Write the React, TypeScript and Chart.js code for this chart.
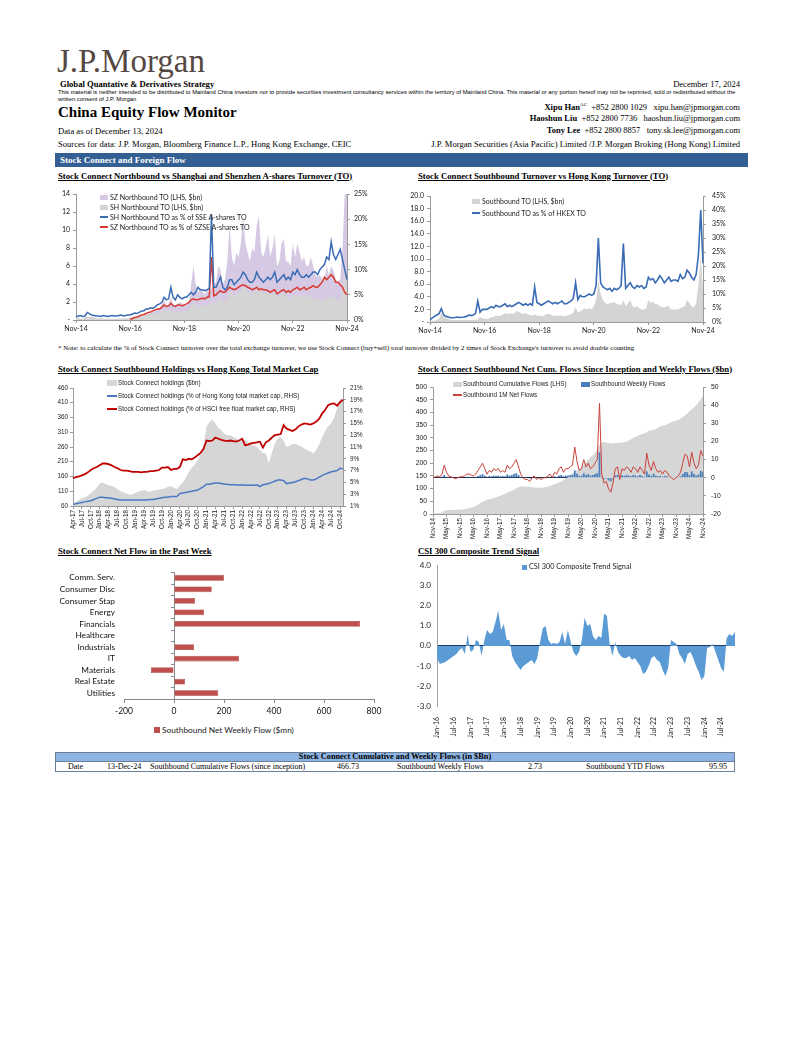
import React, { useEffect, useRef } from 'react';
import { Chart, registerables } from 'chart.js';

Chart.register(...registerables);

// ---------- category helpers ----------
const MONTHS = ['Jan', 'Feb', 'Mar', 'Apr', 'May', 'Jun', 'Jul', 'Aug', 'Sep', 'Oct', 'Nov', 'Dec'];
function monthSeq(year: number, month: number, count: number): string[] {
  const out: string[] = [];
  for (let i = 0; i < count; i++) {
    const m = (month + i) % 12;
    const y = year + Math.floor((month + i) / 12);
    out.push(MONTHS[m] + '-' + String(y % 100).padStart(2, '0'));
  }
  return out;
}

// ---------- Chart 1: Northbound vs A-share turnover (monthly, Nov-14 .. Nov-24) ----------
const c1Months = monthSeq(2014, 10, 121);
const c1Ticks = ['Nov-14', 'Nov-16', 'Nov-18', 'Nov-20', 'Nov-22', 'Nov-24'];
const c1SZTurnover = [
  0, 0, 0, 0, 0, 0, 0, 0, 0, 0, 0, 0,
  0, 0, 0, 0, 0, 0, 0, 0, 0, 0, 0, 0,
  0, 0.2, 0.3, 0.3, 0.4, 0.4, 0.5, 0.6, 0.7, 0.8, 0.9, 1.0,
  1.2, 1.3, 1.8, 2.2, 1.6, 1.8, 2.5, 1.8, 1.6, 1.8, 2.0, 1.8,
  1.8, 1.6, 2.0, 4.0, 6.0, 4.0, 3.0, 3.6, 3.2, 2.8, 3.4, 3.0,
  3.5, 4.0, 4.2, 6.0, 5.5, 4.0, 4.5, 6.5, 10.5, 7.0, 6.0, 7.5,
  7.0, 8.5, 11.5, 8.5, 7.5, 6.5, 8.0, 7.5, 10.5, 11.5, 7.5, 7.0,
  8.0, 9.5, 7.0, 8.0, 9.5, 6.0, 6.5, 8.5, 9.0, 6.5, 6.5, 6.0,
  8.5, 7.0, 8.5, 7.5, 6.5, 7.0, 6.0, 6.0, 7.0, 6.0, 5.0, 4.8,
  5.0, 4.5, 4.5, 6.0, 5.0, 6.0, 5.5, 4.5, 4.2, 4.5, 8.0, 14.0,
  14.0,
];
const c1SHTurnover = [
  0.3, 0.2, 0.15, 0.15, 0.3, 0.4, 0.3, 0.4, 0.3, 0.2, 0.2, 0.2,
  0.2, 0.15, 0.15, 0.15, 0.15, 0.15, 0.15, 0.15, 0.15, 0.2, 0.2, 0.2,
  0.3, 0.3, 0.3, 0.3, 0.4, 0.4, 0.4, 0.5, 0.6, 0.6, 0.7, 0.7,
  0.8, 0.8, 1.0, 1.2, 1.0, 1.0, 1.1, 1.0, 0.9, 1.0, 1.0, 0.9,
  1.0, 1.0, 1.1, 1.6, 2.0, 1.8, 1.5, 1.6, 1.6, 1.5, 1.6, 1.6,
  1.8, 1.9, 2.0, 2.3, 2.5, 2.0, 2.0, 2.3, 3.2, 3.0, 2.8, 2.8,
  3.0, 3.2, 3.6, 3.6, 3.2, 2.9, 3.0, 3.1, 3.4, 3.5, 3.2, 2.9,
  3.0, 3.0, 2.9, 2.8, 3.0, 2.6, 2.6, 3.0, 3.0, 2.7, 2.5, 2.4,
  2.8, 2.7, 2.6, 2.8, 2.7, 2.8, 2.6, 2.5, 2.6, 2.5, 2.4, 2.3,
  2.3, 2.2, 2.2, 2.6, 2.5, 2.5, 2.6, 2.3, 2.2, 2.2, 3.5, 5.0,
  3.5,
];
const c1SHPct = [
  0.6, 0.8, 0.9, 0.7, 0.8, 1.5, 1.2, 1.0, 0.9, 0.8, 0.8, 0.7,
  0.9, 0.8, 0.7, 0.8, 0.9, 0.8, 0.8, 0.9, 1.0, 0.8, 0.9, 1.0,
  1.0, 1.2, 1.4, 1.3, 1.5, 1.8, 1.8, 2.2, 2.2, 2.4, 2.3, 2.6,
  3.0, 3.2, 3.5, 4.5, 4.0, 4.2, 6.5, 4.5, 4.0, 5.0, 4.5, 4.2,
  4.5, 4.5, 5.0, 5.5, 5.0, 5.5, 6.5, 6.0, 6.0, 5.8, 6.0, 6.2,
  21.0, 6.5, 6.5, 7.5, 8.5, 6.5, 6.0, 6.5, 8.0, 8.0, 7.0, 7.5,
  8.0, 8.5, 9.5, 9.0, 8.0, 7.5, 7.5, 8.0, 9.5, 8.5, 8.0, 7.5,
  8.0, 8.5, 8.0, 8.5, 9.5, 7.5, 8.0, 8.5, 9.0, 8.0, 8.5, 8.0,
  9.5, 9.0, 10.0, 9.0, 8.5, 8.5, 9.0, 8.5, 9.0, 9.5, 9.5, 9.0,
  10.0, 10.5, 11.0, 12.5, 12.0, 15.5, 13.0, 12.0, 13.0, 14.0, 12.0, 10.0,
  8.0,
];
const c1SZPct = [
  null, null, null, null, null, null, null, null, null, null, null, null,
  null, null, null, null, null, null, null, null, null, null, null, null,
  0.1, 0.3, 0.5, 0.6, 0.8, 1.0, 1.1, 1.3, 1.5, 1.6, 1.8, 2.0,
  2.2, 2.2, 2.5, 3.0, 2.7, 2.8, 3.3, 2.8, 2.7, 3.0, 3.0, 2.8,
  3.0, 3.2, 3.5, 4.0, 4.2, 4.0, 4.0, 4.2, 4.3, 4.2, 4.5, 4.6,
  12.5, 4.8, 5.0, 5.5, 5.8, 5.5, 5.5, 6.0, 6.5, 6.2, 6.0, 6.2,
  6.5, 6.8, 7.0, 6.8, 6.5, 6.3, 6.0, 6.2, 6.5, 6.0, 6.2, 6.0,
  6.0, 5.8, 5.5, 5.8, 6.0, 5.2, 5.5, 5.8, 6.0, 5.5, 5.8, 5.5,
  6.0, 6.2, 6.5, 6.0, 6.2, 6.5, 6.0, 6.3, 6.5, 6.8, 6.5, 6.5,
  7.0, 7.5, 8.5, 8.0, 8.5, 9.0, 8.5, 7.5, 7.5, 7.0, 6.5, 5.5,
  5.0,
];

// ---------- Chart 2: Southbound turnover (monthly, Nov-14 .. Nov-24) ----------
const c2Months = monthSeq(2014, 10, 121);
const c2Ticks = ['Nov-14', 'Nov-16', 'Nov-18', 'Nov-20', 'Nov-22', 'Nov-24'];
const c2SBTurnover = [
  0.1, 0.2, 0.2, 0.3, 0.5, 1.5, 0.8, 0.6, 0.5, 0.3, 0.3, 0.3,
  0.3, 0.3, 0.3, 0.3, 0.3, 0.3, 0.3, 0.3, 0.4, 0.4, 0.8, 0.6,
  0.5, 0.5, 0.6, 0.8, 0.8, 1.0, 0.9, 1.0, 1.2, 1.4, 1.3, 1.3,
  1.4, 1.3, 1.8, 1.6, 1.4, 1.3, 1.4, 1.2, 1.1, 1.0, 1.2, 1.0,
  1.0, 0.9, 1.0, 1.2, 1.3, 1.2, 1.0, 1.0, 1.0, 1.0, 1.0, 0.9,
  1.0, 1.1, 1.2, 1.5, 2.4, 1.5, 1.7, 1.9, 2.2, 2.0, 2.2, 2.0,
  2.5, 3.5, 6.5, 4.5, 3.5, 3.0, 2.8, 3.0, 3.0, 3.2, 2.8, 2.8,
  2.6, 3.5, 2.5, 3.0, 3.5, 2.5, 2.3, 2.5, 2.2, 2.0, 2.0, 2.2,
  3.5, 3.0, 3.2, 2.8, 2.8, 2.5, 2.4, 2.3, 2.5, 2.5, 2.0, 2.0,
  2.0, 2.0, 2.2, 2.4, 2.5, 3.5, 3.0, 2.5, 2.3, 3.0, 6.0, 10.5,
  5.0,
];
const c2SBPct = [
  0.7, 1.5, 2.0, 2.5, 3.0, 4.8, 2.5, 2.0, 1.8, 1.5, 1.5, 1.6,
  1.8, 1.6, 1.7, 1.8, 2.0, 2.5, 2.3, 2.5, 3.0, 7.5, 3.5, 4.5,
  4.5, 4.5, 5.0, 5.5, 5.0, 6.0, 5.5, 5.5, 6.0, 6.5, 5.5, 6.0,
  5.5, 6.0, 6.5, 7.0, 6.5, 6.0, 6.5, 6.0, 6.5, 6.0, 12.5, 7.0,
  6.5, 6.0, 6.5, 7.0, 7.5, 7.0, 6.5, 7.0, 6.5, 7.0, 7.5, 6.5,
  6.5, 7.0, 7.5, 8.5, 14.0, 8.0, 9.5, 9.0, 9.0, 9.5, 10.0, 9.5,
  10.0, 13.0, 30.0, 14.0, 12.5, 12.0, 11.5, 12.0, 11.0, 12.0, 11.5, 12.0,
  13.0, 28.0, 12.0, 13.0, 14.0, 12.5, 12.0, 13.0, 12.5, 13.0, 12.0, 12.5,
  16.0, 15.0, 15.5, 14.0, 15.0, 16.5, 15.5, 14.0, 15.0, 16.0, 14.5, 15.0,
  15.0, 14.5, 17.0, 15.5, 16.0, 18.5, 17.5, 16.0, 15.0, 17.0, 24.0, 40.0,
  21.0,
];

// ---------- Chart 3: Southbound holdings (monthly, Apr-17 .. Nov-24) ----------
const c3Months = monthSeq(2017, 3, 92);
const c3Ticks = [
  'Apr-17', 'Jul-17', 'Oct-17', 'Jan-18', 'Apr-18', 'Jul-18', 'Oct-18', 'Jan-19', 'Apr-19', 'Jul-19', 'Oct-19',
  'Jan-20', 'Apr-20', 'Jul-20', 'Oct-20', 'Jan-21', 'Apr-21', 'Jul-21', 'Oct-21', 'Jan-22', 'Apr-22', 'Jul-22',
  'Oct-22', 'Jan-23', 'Apr-23', 'Jul-23', 'Oct-23', 'Jan-24', 'Apr-24', 'Jul-24', 'Oct-24',
];
const c3Holdings = [
  69, 74, 80, 86, 90, 96, 103, 112, 122,
  136, 140, 135, 130, 128, 124, 117, 110, 106, 102, 98, 100,
  104, 108, 112, 114, 110, 108, 112, 114, 115, 118, 120, 124,
  128, 122, 118, 130, 140, 155, 175, 190, 200, 215, 235, 260,
  330, 345, 353, 340, 325, 317, 305, 300, 300, 295, 290, 283,
  280, 285, 277, 270, 265, 260, 250, 240, 238, 204, 240, 270,
  289, 294, 280, 260, 265, 270, 271, 265, 262, 255, 250, 245,
  238, 250, 270, 294, 315, 330, 340, 360, 390, 424, 420,
];
const c3PctHKTotal = [
  1.3, 1.4, 1.5, 1.6, 1.7, 1.8, 1.9, 2.1, 2.3,
  2.5, 2.5, 2.4, 2.4, 2.3, 2.2, 2.1, 2.0, 2.0, 2.0, 2.0, 2.0,
  2.0, 2.0, 2.0, 2.0, 2.0, 2.1, 2.1, 2.2, 2.3, 2.4, 2.5, 2.5,
  2.6, 2.6, 2.6, 3.1, 3.2, 3.3, 3.4, 3.5, 3.6, 3.7, 4.0, 4.3,
  4.7, 4.7, 4.8, 4.9, 4.9, 4.8, 4.7, 4.7, 4.6, 4.6, 4.6, 4.5,
  4.6, 4.5, 4.5, 4.5, 4.5, 4.6, 4.3, 4.6, 4.7, 4.8, 5.0, 5.2,
  5.4, 5.4, 5.3, 4.8, 4.9, 5.0, 5.1, 5.3, 5.5, 5.7, 5.6, 5.4,
  5.4, 5.6, 5.9, 6.2, 6.4, 6.6, 6.8, 6.9, 7.0, 7.4, 7.3,
];
const c3PctHSCI = [
  5.7, 5.9, 6.0, 6.2, 6.4, 6.7, 7.1, 7.4, 7.6,
  7.9, 8.2, 8.2, 8.1, 7.9, 7.6, 7.4, 7.1, 7.0, 7.0, 6.9, 6.8,
  6.8, 6.8, 6.7, 6.8, 6.8, 6.9, 6.9, 7.0, 7.1, 7.5, 7.5, 7.6,
  7.1, 7.3, 7.3, 7.6, 8.9, 8.8, 9.0, 8.9, 9.2, 9.6, 10.0, 10.7,
  12.1, 12.0, 12.1, 12.6, 12.4, 12.2, 12.1, 12.0, 12.1, 12.0, 11.9, 12.1,
  12.4, 11.3, 11.4, 11.6, 11.7, 11.8, 11.9, 10.9, 11.8, 12.1, 12.6, 13.0,
  13.1, 13.2, 14.7, 14.1, 13.9, 13.7, 14.0, 14.5, 14.8, 15.0, 14.9, 14.8,
  15.0, 15.3, 15.8, 16.7, 17.3, 18.1, 18.3, 18.4, 18.0, 18.6, 19.0,
];

// ---------- Chart 4: Southbound flows (monthly, Nov-14 .. Nov-24) ----------
const c4Months = monthSeq(2014, 10, 121);
const c4Ticks = [
  'Nov-14', 'May-15', 'Nov-15', 'May-16', 'Nov-16', 'May-17', 'Nov-17', 'May-18', 'Nov-18', 'May-19', 'Nov-19',
  'May-20', 'Nov-20', 'May-21', 'Nov-21', 'May-22', 'Nov-22', 'May-23', 'Nov-23', 'May-24', 'Nov-24',
];
const c4Cumulative = [
  1, 2, 3, 4, 5, 14, 15, 16, 16, 17, 17, 17,
  18, 18, 19, 21, 23, 26, 29, 32, 36, 42, 48, 52,
  56, 58, 60, 63, 66, 69, 72, 76, 80, 84, 88, 92,
  96, 100, 106, 108, 108, 108, 107, 106, 105, 104, 104, 103,
  103, 104, 105, 108, 110, 114, 117, 120, 124, 128, 134, 140,
  146, 152, 158, 164, 172, 178, 186, 195, 205, 215, 225, 230,
  240, 255, 270, 282, 285, 281, 280, 279, 278, 280, 280, 281,
  282, 283, 285, 290, 295, 300, 303, 307, 312, 315, 318, 322,
  328, 330, 332, 335, 340, 345, 348, 350, 354, 358, 362, 365,
  368, 370, 375, 382, 388, 396, 405, 413, 420, 428, 440, 452,
  466,
];
const c4Weekly = [
  0, 0, 0.3, 0, 0.5, 1.5, 0.5, 0.2, 0, 0, 0, 0,
  0, 0, 0.3, 0.5, 0.5, 0.4, 0.3, 0.5, 1, 1.5, 2, 1.2,
  0.5, 1, 0.8, 1.2, 1, 1.2, 0.8, 1, 0.8, 1.8, 1.2, 1.5,
  2, 2.5, 1.5, 0.5, 0, -0.3, -0.3, -0.5, 0, 0.3, -0.3, 0,
  -0.3, 0, 0, 0.3, 0.5, 0, 0.8, 0.5, 1.2, 1.5, 0.8, 1.2,
  1.2, 1.5, 1.8, 4, 2.2, 1, 1.2, 2.5, 1.5, 2, 1.2, 1.5,
  2, 2.5, 14, 0.5, -0.8, -0.5, -1.5, -2, -0.8, 1.2, 1.5, -0.3,
  1.2, 1, 1.5, 1.2, 0.8, 1.5, 1.2, 0.8, 1.5, 1, 0.5, 3.5,
  1.8, 1, 2.2, 1.2, 0.8, 1, 0.5, 1, 0.8, 0.3, 0, -0.3,
  0, 0.3, 0.8, 2, 3.2, 3, 1.5, 3.5, 2, 1.2, 1.8, 3.8,
  3,
];
const c4OneMonth = [
  0, 0.5, 1, 0.5, 2, 7, 3, 1, 0.5, 0, -0.5, 0,
  0.5, 0.5, 1, 2, 2, 1.5, 1, 2, 4, 6, 8, 5,
  2, 4, 3, 5, 4, 5, 3, 4, 3, 7, 5, 6,
  8, 10, 6, 2, 0, -1, -1, -2, 0, 1, -1, 0,
  -1, 0, 0, 1, 2, 0, 3, 2, 5, 6, 3, 5,
  5, 6, 7, 17, 9, 4, 5, 10, 6, 8, 5, 6,
  8, 10, 41, 2, -3, -2, -6, -8, -3, 5, 6, -1,
  5, 4, 6, 5, 3, 6, 5, 3, 6, 4, 2, 13.5,
  7, 4, 9, 5, 3, 4, 2, 4, 3, 1, 0, -1,
  0, 1, 3, 8, 13, 12, 6, 14, 8, 5, 7, 15,
  12,
];

// ---------- Chart 5: Net flow in past week by sector ($mn) ----------
const c5Sectors = ['Comm. Serv.', 'Consumer Disc', 'Consumer Stap', 'Energy', 'Financials', 'Healthcare', 'Industrials', 'IT', 'Materials', 'Real Estate', 'Utilities'];
const c5NetFlow = [200, 151, 84, 120, 744, 3, 80, 260, -92, 44, 177];

// ---------- Chart 6: CSI 300 composite trend signal (monthly, Jan-16 .. Dec-24) ----------
const c6Months = monthSeq(2016, 0, 108);
const c6Ticks = [
  'Jan-16', 'Jul-16', 'Jan-17', 'Jul-17', 'Jan-18', 'Jul-18', 'Jan-19', 'Jul-19', 'Jan-20',
  'Jul-20', 'Jan-21', 'Jul-21', 'Jan-22', 'Jul-22', 'Jan-23', 'Jul-23', 'Jan-24', 'Jul-24',
];
const c6Signal = [
  -0.6, -0.9, -0.85, -0.8, -0.7, -0.6, -0.5, -0.4, -0.2, -0.1, -0.4, 0.6,
  -0.3, -0.2, 0.3, 0.2, -0.5, 0.3, 0.8, 0.6, 0.7, 1.2, 1.75, 0.8,
  1.1, 0.3, 0.3, -0.5, -0.8, -1.0, -1.2, -1.0, -0.9, -0.8, -0.7, -0.9,
  -0.6, 0.2, 0.9, 1.0, 0.3, 0.1, 0.15, 0.1, 0.2, 0.7, 0.1, 0.8,
  0.2, -0.3, -0.5, -0.3, 0.3, 1.4, 1.0, 1.1, 0.5, 0.3, 0.5, 0.4,
  1.6, 1.5, 0.1, -0.5, 0.2, -0.3, -0.5, -0.6, -0.6, -0.5, -0.7, -0.6,
  -0.8, -1.0, -1.4, -1.3, -1.0, -0.6, -0.5, -0.7, -0.8, -1.2, -1.5, -1.1,
  0.3, 0.2, 0.1, -0.4, -0.6, -0.9, -0.4, -0.3, -0.6, -1.0, -1.3, -1.7,
  -1.5, -0.1, -0.05, 0.1, -0.3, -0.7, -1.1, -1.3, 0.4, 0.6, 0.5, 0.7,
];

// ---------- fonts / colours ----------
const SERIF = '"Liberation Serif", "Times New Roman", serif';
const SANS = '"Liberation Sans", Arial, sans-serif';
const CAL = 'Lato, "Open Sans", sans-serif';
const AXIS = '#9a9a9a';

function sparse(ticks: string[]) {
  return function (this: any, value: any) {
    const l = this.getLabelForValue(value);
    return ticks.includes(l) ? l : null;
  };
}
const tickColorSparse = (ctx: any) => (ctx.tick && ctx.tick.label ? AXIS : 'rgba(0,0,0,0)');
const fixW = (w: number) => (s: any) => { s.width = w; };
const fixH = (h: number) => (s: any) => { s.height = h; };

const base = (padding: any) => ({
  responsive: false,
  animation: false as const,
  events: [] as any[],
  layout: { padding },
  plugins: { legend: { display: false }, tooltip: { enabled: false } },
});

// ---------- chart configs ----------
function cfg1(): any {
  return {
    type: 'line',
    data: {
      labels: c1Months,
      datasets: [
        { label: 'SH Northbound TO as % of SSE A-shares TO', data: c1SHPct, yAxisID: 'y1', borderColor: '#3a6cb4', borderWidth: 1.5, pointRadius: 0, fill: false, order: 0 },
        { label: 'SZ Northbound TO as % of SZSE A-shares TO', data: c1SZPct, yAxisID: 'y1', borderColor: '#d83a30', borderWidth: 1.5, pointRadius: 0, fill: false, order: 1 },
        { label: 'SH Northbound TO (LHS, $bn)', data: c1SHTurnover, yAxisID: 'y', borderWidth: 0, backgroundColor: '#d4d4d4', pointRadius: 0, fill: 'origin', order: 2 },
        { label: 'SZ Northbound TO (LHS, $bn)', data: c1SZTurnover, yAxisID: 'y', borderWidth: 0, backgroundColor: '#d5c9e3', pointRadius: 0, fill: 'origin', order: 3 },
      ],
    },
    options: {
      ...base({ top: 9, left: 0, right: 0, bottom: 0 }),
      scales: {
        x: {
          afterFit: fixH(20),
          grid: { display: true, drawOnChartArea: false, tickLength: 3, tickColor: tickColorSparse },
          border: { color: AXIS },
          ticks: { autoSkip: false, maxRotation: 0, minRotation: 0, callback: sparse(c1Ticks), font: { family: CAL, size: 7 }, color: '#222', padding: 2 },
        },
        y: {
          position: 'left', min: 0, max: 14, afterFit: fixW(26),
          grid: { display: true, drawOnChartArea: false, tickLength: 3, color: AXIS },
          border: { color: AXIS },
          ticks: { stepSize: 2, callback: (v: number) => (v === 0 ? '-' : String(v)), font: { family: CAL, size: 7 }, color: '#222', padding: 3 },
        },
        y1: {
          position: 'right', min: 0, max: 25, afterFit: fixW(33),
          grid: { display: true, drawOnChartArea: false, tickLength: 3, color: AXIS },
          border: { color: AXIS },
          ticks: { stepSize: 5, callback: (v: number) => v + '%', font: { family: CAL, size: 7 }, color: '#222', padding: 4 },
        },
      },
    },
  };
}

function cfg2(): any {
  return {
    type: 'line',
    data: {
      labels: c2Months,
      datasets: [
        { label: 'Southbound TO as % of HKEX TO', data: c2SBPct, yAxisID: 'y1', borderColor: '#3a6cb4', borderWidth: 1.6, pointRadius: 0, fill: false, order: 0 },
        { label: 'Southbound TO (LHS, $bn)', data: c2SBTurnover, yAxisID: 'y', borderWidth: 0, backgroundColor: '#d4d4d4', pointRadius: 0, fill: 'origin', order: 1 },
      ],
    },
    options: {
      ...base({ top: 11, left: 0, right: 0, bottom: 0 }),
      scales: {
        x: {
          afterFit: fixH(18),
          grid: { display: true, drawOnChartArea: false, tickLength: 3, tickColor: tickColorSparse },
          border: { color: AXIS },
          ticks: { autoSkip: false, maxRotation: 0, minRotation: 0, callback: sparse(c2Ticks), font: { family: CAL, size: 7 }, color: '#222', padding: 2 },
        },
        y: {
          position: 'left', min: 0, max: 20, afterFit: fixW(30),
          grid: { display: true, drawOnChartArea: false, tickLength: 3, color: AXIS },
          border: { color: AXIS },
          ticks: { stepSize: 2, callback: (v: number) => (v === 0 ? '-' : v.toFixed(1)), font: { family: CAL, size: 7 }, color: '#222', padding: 3 },
        },
        y1: {
          position: 'right', min: 0, max: 45, afterFit: fixW(42),
          grid: { display: true, drawOnChartArea: false, tickLength: 3, color: AXIS },
          border: { color: AXIS },
          ticks: { stepSize: 5, callback: (v: number) => v + '%', font: { family: CAL, size: 7 }, color: '#222', padding: 6 },
        },
      },
    },
  };
}

function cfg3(): any {
  return {
    type: 'line',
    data: {
      labels: c3Months,
      datasets: [
        { label: 'Stock Connect holdings (% of HSCI free float market cap, RHS)', data: c3PctHSCI, yAxisID: 'y1', borderColor: '#c00000', borderWidth: 1.8, pointRadius: 0, fill: false, order: 0 },
        { label: 'Stock Connect holdings (% of Hong Kong total market cap, RHS)', data: c3PctHKTotal, yAxisID: 'y1', borderColor: '#4a78c2', borderWidth: 1.5, pointRadius: 0, fill: false, order: 1 },
        { label: 'Stock Connect holdings ($bn)', data: c3Holdings, yAxisID: 'y', borderWidth: 0, backgroundColor: '#d6d6d6', pointRadius: 0, fill: 'origin', order: 2 },
      ],
    },
    options: {
      ...base({ top: 10, left: 0, right: 0, bottom: 0 }),
      scales: {
        x: {
          afterFit: fixH(32),
          grid: { display: true, drawOnChartArea: false, tickLength: 3, tickColor: tickColorSparse },
          border: { color: AXIS },
          ticks: { autoSkip: false, maxRotation: 90, minRotation: 90, callback: sparse(c3Ticks), font: { family: SANS, size: 6.3 }, color: '#222', padding: 1 },
        },
        y: {
          position: 'left', min: 60, max: 460, afterFit: fixW(23),
          grid: { display: true, drawOnChartArea: false, tickLength: 3, color: AXIS },
          border: { color: AXIS },
          ticks: { stepSize: 50, font: { family: SANS, size: 6.3 }, color: '#222', padding: 2 },
        },
        y1: {
          position: 'right', min: 1, max: 21, afterFit: fixW(37),
          grid: { display: true, drawOnChartArea: false, tickLength: 3, color: AXIS },
          border: { color: AXIS },
          ticks: { stepSize: 2, callback: (v: number) => v + '%', font: { family: SANS, size: 6.3 }, color: '#222', padding: 4 },
        },
      },
    },
  };
}

function cfg4(): any {
  return {
    type: 'bar',
    data: {
      labels: c4Months,
      datasets: [
        { type: 'line', label: 'Southbound 1M Net Flows', data: c4OneMonth, yAxisID: 'y1', borderColor: '#c8423c', borderWidth: 1, pointRadius: 0, fill: false, order: 0 },
        { type: 'bar', label: 'Southbound Weekly Flows', data: c4Weekly, yAxisID: 'y1', backgroundColor: '#4a7ebb', barPercentage: 0.9, categoryPercentage: 0.9, order: 1 },
        { type: 'line', label: 'Southbound Cumulative Flows (LHS)', data: c4Cumulative, yAxisID: 'y', borderWidth: 0, backgroundColor: '#d6d6d6', pointRadius: 0, fill: 'origin', order: 2 },
      ],
    },
    options: {
      ...base({ top: 7, left: 0, right: 0, bottom: 0 }),
      scales: {
        x: {
          offset: false,
          afterFit: fixH(26),
          grid: { display: true, drawOnChartArea: false, tickLength: 3, tickColor: tickColorSparse, offset: false },
          border: { color: AXIS },
          ticks: { autoSkip: false, maxRotation: 90, minRotation: 90, callback: sparse(c4Ticks), font: { family: SANS, size: 6.3 }, color: '#222', padding: 1 },
        },
        y: {
          position: 'left', min: 0, max: 500, afterFit: fixW(28),
          grid: { display: true, drawOnChartArea: false, tickLength: 3, color: AXIS },
          border: { color: AXIS },
          ticks: { stepSize: 50, font: { family: SANS, size: 6.8 }, color: '#222', padding: 3 },
        },
        y1: {
          position: 'right', min: -20, max: 50, afterFit: fixW(42),
          grid: {
            display: true, drawOnChartArea: true, tickLength: 3,
            color: (ctx: any) => (ctx.tick && ctx.tick.value === 0 ? '#1d2b45' : 'rgba(0,0,0,0)'),
            tickColor: AXIS,
            lineWidth: 1,
          },
          border: { color: AXIS },
          ticks: { stepSize: 10, font: { family: SANS, size: 6.8 }, color: '#222', padding: 5 },
        },
      },
    },
  };
}

const zeroTicksPlugin = {
  id: 'zeroTicks',
  afterDatasetsDraw(chart: any) {
    const x0 = chart.scales.x.getPixelForValue(0);
    const ys = chart.scales.y;
    const ctx = chart.ctx;
    ctx.save();
    ctx.strokeStyle = '#8a8a8a';
    ctx.lineWidth = 1;
    const n = c5Sectors.length;
    const step = (ys.bottom - ys.top) / n;
    for (let i = 0; i <= n; i++) {
      const yy = Math.round(ys.top + i * step) + 0.5;
      ctx.beginPath();
      ctx.moveTo(x0 - 3, yy);
      ctx.lineTo(x0, yy);
      ctx.stroke();
    }
    ctx.restore();
  },
};

function cfg5(): any {
  return {
    type: 'bar',
    data: {
      labels: c5Sectors,
      datasets: [
        { label: 'Southbound Net Weekly Flow ($mn)', data: c5NetFlow, backgroundColor: '#c0504d', borderColor: '#a5403d', borderWidth: 0.6, barPercentage: 0.5, categoryPercentage: 1 },
      ],
    },
    options: {
      ...base({ top: 3, left: 0, right: 16, bottom: 0 }),
      indexAxis: 'y',
      scales: {
        x: {
          min: -200, max: 800, afterFit: fixH(24),
          grid: {
            display: true, drawOnChartArea: true, tickLength: 4,
            color: (ctx: any) => (ctx.tick && ctx.tick.value === 0 ? '#8a8a8a' : 'rgba(0,0,0,0)'),
            tickColor: '#8a8a8a',
          },
          border: { color: '#8a8a8a' },
          ticks: { stepSize: 200, font: { family: CAL, size: 8.5 }, color: '#111', padding: 3 },
        },
        y: {
          afterFit: fixW(74),
          grid: { display: false, drawTicks: false },
          border: { display: false },
          ticks: { autoSkip: false, font: { family: CAL, size: 8.3 }, color: '#111', padding: 9 },
        },
      },
    },
    plugins: [zeroTicksPlugin],
  };
}

function cfg6(): any {
  return {
    type: 'line',
    data: {
      labels: c6Months,
      datasets: [
        { label: 'CSI 300 Composite Trend Signal', data: c6Signal, borderWidth: 0, backgroundColor: '#5b9bd5', pointRadius: 0, fill: 'origin' },
      ],
    },
    options: {
      ...base({ top: 8, left: 0, right: 10, bottom: 0 }),
      scales: {
        x: {
          afterFit: fixH(39),
          grid: { display: false },
          border: { display: false },
          ticks: { autoSkip: false, maxRotation: 90, minRotation: 90, callback: sparse(c6Ticks), font: { family: CAL, size: 7 }, color: '#222', padding: 3 },
        },
        y: {
          min: -3, max: 4, afterFit: fixW(32),
          grid: {
            display: true, drawOnChartArea: true, drawTicks: false,
            color: (ctx: any) => (ctx.tick && ctx.tick.value === 0 ? '#1f3a66' : 'rgba(0,0,0,0)'),
          },
          border: { color: '#a0a0a0' },
          ticks: { stepSize: 1, callback: (v: number) => v.toFixed(1), font: { family: CAL, size: 8 }, color: '#222', padding: 6 },
        },
      },
    },
  };
}

// ---------- React pieces ----------
function ChartBox({ x, y, w, h, make }: { x: number; y: number; w: number; h: number; make: () => any }) {
  const ref = useRef<HTMLCanvasElement>(null);
  useEffect(() => {
    const chart = new Chart(ref.current as HTMLCanvasElement, make());
    return () => chart.destroy();
  }, []);
  return (
    <div style={{ position: 'absolute', left: x, top: y, width: w, height: h }}>
      <canvas ref={ref} width={w} height={h} style={{ display: 'block' }} />
    </div>
  );
}

function T(props: { x: number; y: number; s: number; children: any; b?: boolean; f?: string; c?: string; r?: boolean; u?: boolean }) {
  const { x, y, s, children, b, f = SERIF, c = '#000', r, u } = props;
  const st: any = {
    position: 'absolute', top: y - s * 0.86, fontSize: s, lineHeight: 1, fontFamily: f,
    fontWeight: b ? 'bold' : 'normal', color: c, whiteSpace: 'nowrap', textDecoration: u ? 'underline' : 'none',
  };
  if (r) st.right = 802 - x; else st.left = x;
  return <div style={st}>{children}</div>;
}

function Leg(props: { x: number; y: number; kind: 'box' | 'line'; color: string; text: string; s: number; f: string; sw: number; sh?: number; gap?: number }) {
  const { x, y, kind, color, text, s, f, sw, sh = 5, gap = 2 } = props;
  return (
    <div style={{ position: 'absolute', left: x, top: y - 6, height: 12, display: 'flex', alignItems: 'center', whiteSpace: 'nowrap', fontSize: s, fontFamily: f, lineHeight: 1, color: '#222' }}>
      <span style={{ display: 'inline-block', width: sw, height: kind === 'box' ? sh : 2, background: color, marginRight: gap }} />
      <span>{text}</span>
    </div>
  );
}

export default function App() {
  const disclaimer = 'This material is neither intended to be distributed to Mainland China investors nor to provide securities investment consultancy services within the territory of Mainland China. This material or any portion hereof may not be reprinted, sold or redistributed without the';
  return (
    <div style={{ position: 'absolute', left: 0, top: 0, width: 802, height: 1037, background: '#fff', overflow: 'hidden' }}>
      {/* header */}
      <T x={57} y={73} s={33} c="#554842">J.P.Morgan</T>
      <T x={60} y={87} s={8.6} b>Global Quantative &amp; Derivatives Strategy</T>
      <T x={740} y={87} s={8.5} r>December 17, 2024</T>
      <T x={58} y={95} s={5.85} f={SANS}>{disclaimer}</T>
      <T x={58} y={102} s={5.85} f={SANS}>written consent of J.P. Morgan</T>
      <T x={58} y={118} s={15} b>China Equity Flow Monitor</T>
      <T x={740} y={109} s={8.5} r><b>Xipu Han</b><sup style={{ fontSize: 5 }}>AC</sup>&nbsp; +852 2800 1029&nbsp;&nbsp; xipu.han@jpmorgan.com</T>
      <T x={740} y={121} s={8.5} r><b>Haoshun Liu</b>&nbsp; +852 2800 7736&nbsp;&nbsp; haoshun.liu@jpmorgan.com</T>
      <T x={740} y={133} s={8.5} r><b>Tony Lee</b>&nbsp; +852 2800 8857&nbsp;&nbsp; tony.sk.lee@jpmorgan.com</T>
      <T x={58} y={134} s={8.6}>Data as of December 13, 2024</T>
      <T x={58} y={147} s={8.6}>Sources for data: J.P. Morgan, Bloomberg Finance L.P., Hong Kong Exchange, CEIC</T>
      <T x={740} y={147} s={8.6} r>J.P. Morgan Securities (Asia Pacific) Limited /J.P. Morgan Broking (Hong Kong) Limited</T>
      <div style={{ position: 'absolute', left: 55, top: 153, width: 693, height: 14, background: '#345f92' }} />
      <T x={60} y={164} s={9} b c="#fff">Stock Connect and Foreign Flow</T>

      {/* chart titles */}
      <T x={58} y={179} s={8.7} b u>Stock Connect Northbound vs Shanghai and Shenzhen A-shares Turnover (TO)</T>
      <T x={418} y={179} s={8.7} b u>Stock Connect Southbound Turnover vs Hong Kong Turnover (TO)</T>
      <T x={58} y={351} s={6.9}>* Note: to calculate the % of Stock Connect turnover over the total exchange turnover, we use Stock Connect (buy+sell) total turnover divided by 2 times of Stock Exchange's turnover to avoid double counting</T>
      <T x={58} y={372} s={8.7} b u>Stock Connect Southbound Holdings vs Hong Kong Total Market Cap</T>
      <T x={418} y={372} s={8.7} b u>Stock Connect Southbound Net Cum. Flows Since Inception and Weekly Flows ($bn)</T>
      <T x={58} y={554} s={8.7} b u>Stock Connect Net Flow in the Past Week</T>
      <T x={418} y={554} s={8.7} b u>CSI 300 Composite Trend Signal</T>

      {/* charts */}
      <ChartBox x={50} y={185} w={330} h={155} make={cfg1} />
      <ChartBox x={400} y={185} w={345} h={155} make={cfg2} />
      <ChartBox x={50} y={378} w={330} h={160} make={cfg3} />
      <ChartBox x={405} y={378} w={340} h={162} make={cfg4} />
      <ChartBox x={50} y={558} w={340} h={165} make={cfg5} />
      <ChartBox x={405} y={555} w={340} h={190} make={cfg6} />

      {/* legends */}
      <Leg x={100} y={197} kind="box" color="#d5c9e3" text="SZ Northbound TO (LHS, $bn)" s={7} f={CAL} sw={8} gap={2} />
      <Leg x={100} y={207} kind="box" color="#d4d4d4" text="SH Northbound TO (LHS, $bn)" s={7} f={CAL} sw={8} gap={2} />
      <Leg x={100} y={217} kind="line" color="#3a6cb4" text="SH Northbound TO as % of SSE A-shares TO" s={7} f={CAL} sw={8} gap={2} />
      <Leg x={100} y={227} kind="line" color="#d83a30" text="SZ Northbound TO as % of SZSE A-shares TO" s={7} f={CAL} sw={8} gap={2} />

      <Leg x={472} y={201} kind="box" color="#d4d4d4" text="Southbound TO (LHS, $bn)" s={7} f={CAL} sw={8} gap={2} />
      <Leg x={472} y={213} kind="line" color="#3a6cb4" text="Southbound TO as % of HKEX TO" s={7} f={CAL} sw={8} gap={2} />

      <Leg x={107} y={383} kind="box" color="#d6d6d6" text="Stock Connect holdings ($bn)" s={6.3} f={SANS} sw={10} sh={6} gap={1} />
      <Leg x={107} y={396} kind="line" color="#4a78c2" text="Stock Connect holdings (% of Hong Kong total market cap, RHS)" s={6.3} f={SANS} sw={10} gap={1} />
      <Leg x={107} y={409} kind="line" color="#c00000" text="Stock Connect holdings (% of HSCI free float market cap, RHS)" s={6.3} f={SANS} sw={10} gap={1} />

      <Leg x={453} y={384} kind="box" color="#d6d6d6" text="Southbound Cumulative Flows (LHS)" s={6.3} f={SANS} sw={9} sh={5} gap={1} />
      <Leg x={581} y={384} kind="box" color="#4a7ebb" text="Southbound Weekly Flows" s={6.3} f={SANS} sw={9} sh={5} gap={1} />
      <Leg x={453} y={395} kind="line" color="#c8423c" text="Southbound 1M Net Flows" s={6.3} f={SANS} sw={9} gap={1} />

      <Leg x={154} y={730} kind="box" color="#c0504d" text="Southbound Net Weekly Flow ($mn)" s={8.3} f={CAL} sw={6} sh={6} gap={2} />
      <Leg x={522} y={567} kind="box" color="#5b9bd5" text="CSI 300 Composite Trend Signal" s={7.3} f={CAL} sw={5} sh={5} gap={2} />

      {/* summary table */}
      <div style={{ position: 'absolute', left: 55, top: 752, width: 680, height: 10, background: '#8db4e2', border: '1px solid #6a7f99', boxSizing: 'border-box' }} />
      <div style={{ position: 'absolute', left: 55, top: 761, width: 680, height: 11, background: '#fff', border: '1px solid #6a7f99', boxSizing: 'border-box' }} />
      <div style={{ position: 'absolute', left: 55, top: 752.5, width: 680, textAlign: 'center', fontFamily: SERIF, fontWeight: 'bold', fontSize: 8.3, lineHeight: 1, whiteSpace: 'nowrap' }}>Stock Connect Cumulative and Weekly Flows (in $Bn)</div>
      <T x={68} y={770} s={8}>Date</T>
      <T x={107} y={770} s={8}>13-Dec-24</T>
      <T x={150} y={770} s={8}>Southbound Cumulative Flows (since inception)</T>
      <T x={337} y={770} s={8}>466.73</T>
      <T x={397} y={770} s={8}>Southbound Weekly Flows</T>
      <T x={528} y={770} s={8}>2.73</T>
      <T x={586} y={770} s={8}>Southbound YTD Flows</T>
      <T x={709} y={770} s={8}>95.95</T>
    </div>
  );
}
